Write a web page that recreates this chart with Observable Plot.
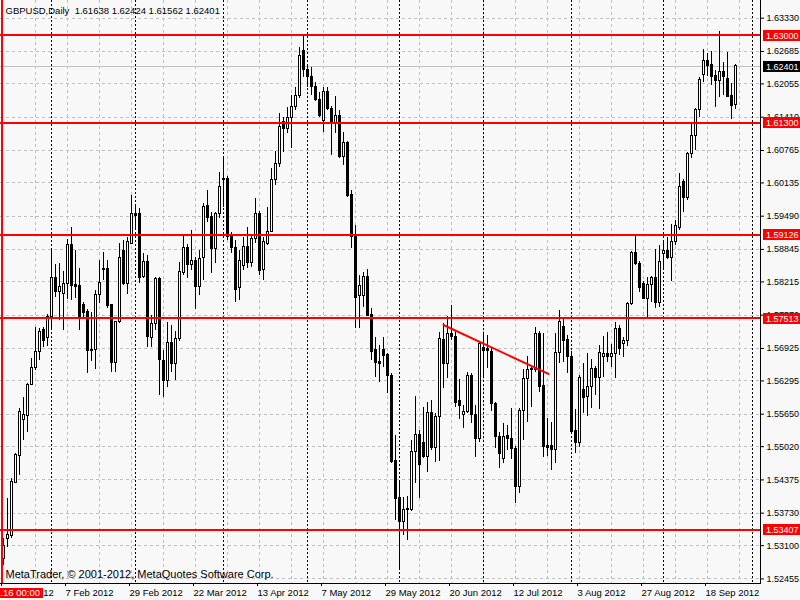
<!DOCTYPE html>
<html><head><meta charset="utf-8">
<script src="https://cdn.jsdelivr.net/npm/d3@7"></script>
<script src="https://cdn.jsdelivr.net/npm/@observablehq/plot@0.6"></script>
<style>
html,body{margin:0;padding:0;background:#f8f8f8;}
#chart{width:800px;height:600px;overflow:hidden;}
</style>
</head><body><div id="chart"></div>
<script>
const open = [1.5285,1.5322,1.5329,1.5432,1.5483,1.5553,1.5562,1.5622,1.5655,1.5686,1.5729,1.5712,1.5754,1.5830,1.5801,1.5799,1.5818,1.5894,1.5816,1.5814,1.5776,1.5764,1.5690,1.5690,1.5797,1.5844,1.5847,1.5776,1.5665,1.5743,1.5882,1.5818,1.5896,1.5954,1.5954,1.5832,1.5861,1.5712,1.5739,1.5828,1.5669,1.5630,1.5704,1.5663,1.5710,1.5838,1.5888,1.5855,1.5863,1.5811,1.5867,1.5968,1.5948,1.5886,1.5954,1.6020,1.6022,1.5908,1.5888,1.5809,1.5853,1.5890,1.5859,1.5904,1.5954,1.5845,1.5896,1.5919,1.6020,1.6051,1.6131,1.6119,1.6140,1.6160,1.6183,1.6270,1.6232,1.6218,1.6199,1.6175,1.6133,1.6189,1.6156,1.6129,1.6144,1.6063,1.6090,1.5991,1.5908,1.5795,1.5795,1.5832,1.5758,1.5690,1.5667,1.5690,1.5679,1.5640,1.5475,1.5403,1.5355,1.5380,1.5380,1.5492,1.5525,1.5510,1.5481,1.5568,1.5500,1.5560,1.5708,1.5663,1.5721,1.5715,1.5591,1.5564,1.5570,1.5640,1.5564,1.5516,1.5694,1.5692,1.5686,1.5584,1.5521,1.5479,1.5523,1.5516,1.5498,1.5423,1.5572,1.5634,1.5650,1.5651,1.5721,1.5620,1.5504,1.5504,1.5496,1.5684,1.5735,1.5708,1.5675,1.5533,1.5510,1.5611,1.5599,1.5618,1.5653,1.5636,1.5675,1.5682,1.5675,1.5681,1.5731,1.5702,1.5706,1.5779,1.5878,1.5857,1.5818,1.5789,1.5816,1.5830,1.5781,1.5876,1.5882,1.5867,1.5898,1.5927,1.6016,1.5985,1.6069,1.6105,1.6154,1.6222,1.6249,1.6243,1.6220,1.6212,1.6228,1.6216,1.6183,1.61638];
const high = [1.5324,1.5401,1.5440,1.5488,1.5576,1.5597,1.5624,1.5673,1.5733,1.5731,1.5733,1.5758,1.5886,1.5855,1.5857,1.5842,1.5904,1.5927,1.5882,1.5847,1.5781,1.5768,1.5762,1.5805,1.5863,1.5878,1.5863,1.5778,1.5745,1.5896,1.5902,1.5908,1.5989,1.5970,1.5964,1.5876,1.5873,1.5756,1.5830,1.5830,1.5688,1.5743,1.5737,1.5725,1.5859,1.5909,1.5894,1.5921,1.5869,1.5882,1.5973,1.5999,1.5956,1.5956,1.6034,1.6061,1.6026,1.5917,1.5902,1.5882,1.5908,1.5927,1.5911,1.5983,1.5958,1.5908,1.5966,1.6041,1.6074,1.6148,1.6140,1.6160,1.6183,1.6199,1.6276,1.6297,1.6241,1.6237,1.6208,1.6189,1.6199,1.6199,1.6162,1.6181,1.6154,1.6111,1.6094,1.5999,1.5931,1.5834,1.5840,1.5845,1.5770,1.5714,1.5698,1.5714,1.5682,1.5644,1.5523,1.5432,1.5403,1.5405,1.5514,1.5599,1.5533,1.5578,1.5587,1.5591,1.5566,1.5723,1.5741,1.5754,1.5776,1.5727,1.5632,1.5582,1.5646,1.5644,1.5582,1.5704,1.5723,1.5717,1.5692,1.5587,1.5529,1.5547,1.5543,1.5576,1.5502,1.5576,1.5651,1.5677,1.5659,1.5733,1.5725,1.5721,1.5556,1.5549,1.5721,1.5766,1.5750,1.5717,1.5686,1.5574,1.5640,1.5663,1.5682,1.5671,1.5657,1.5698,1.5715,1.5723,1.5700,1.5743,1.5737,1.5714,1.5781,1.5880,1.5909,1.5861,1.5822,1.5830,1.5832,1.5884,1.5892,1.5898,1.5908,1.5933,1.5941,1.6032,1.6020,1.6072,1.6129,1.6158,1.6218,1.6272,1.6264,1.6268,1.6232,1.6307,1.6247,1.6266,1.6206,1.62424];
const low = [1.5271,1.5306,1.5324,1.5430,1.5446,1.5514,1.5529,1.5620,1.5650,1.5669,1.5694,1.5696,1.5727,1.5791,1.5747,1.5727,1.5787,1.5785,1.5789,1.5727,1.5752,1.5644,1.5667,1.5651,1.5779,1.5824,1.5770,1.5646,1.5646,1.5741,1.5814,1.5797,1.5894,1.5921,1.5818,1.5828,1.5694,1.5694,1.5727,1.5601,1.5597,1.5617,1.5646,1.5630,1.5706,1.5834,1.5828,1.5844,1.5768,1.5795,1.5824,1.5937,1.5838,1.5857,1.5944,1.5966,1.5902,1.5876,1.5781,1.5785,1.5844,1.5847,1.5849,1.5896,1.5834,1.5824,1.5892,1.5917,1.6008,1.6043,1.6072,1.6109,1.6080,1.6154,1.6177,1.6218,1.6199,1.6183,1.6171,1.6140,1.6111,1.6154,1.6067,1.6109,1.6061,1.6047,1.5985,1.5886,1.5731,1.5731,1.5772,1.5754,1.5669,1.5636,1.5626,1.5655,1.5605,1.5469,1.5359,1.5265,1.5329,1.5320,1.5376,1.5430,1.5401,1.5479,1.5452,1.5494,1.5471,1.5473,1.5615,1.5634,1.5708,1.5578,1.5554,1.5537,1.5566,1.5547,1.5481,1.5510,1.5636,1.5653,1.5570,1.5498,1.5459,1.5469,1.5494,1.5477,1.5391,1.5411,1.5514,1.5549,1.5578,1.5646,1.5607,1.5481,1.5483,1.5456,1.5469,1.5663,1.5665,1.5644,1.5525,1.5488,1.5500,1.5566,1.5560,1.5576,1.5601,1.5574,1.5636,1.5665,1.5655,1.5634,1.5679,1.5675,1.5696,1.5776,1.5853,1.5801,1.5787,1.5752,1.5781,1.5770,1.5772,1.5847,1.5865,1.5822,1.5892,1.5921,1.5956,1.5979,1.6061,1.6076,1.6140,1.6208,1.6220,1.6202,1.6160,1.6179,1.6183,1.6179,1.6136,1.61562];
const close = [1.5310,1.5331,1.5434,1.5485,1.5570,1.5564,1.5622,1.5655,1.5686,1.5725,1.5706,1.5754,1.5830,1.5801,1.5811,1.5818,1.5894,1.5814,1.5812,1.5752,1.5762,1.5688,1.5688,1.5797,1.5820,1.5847,1.5774,1.5665,1.5743,1.5867,1.5818,1.5898,1.5954,1.5950,1.5830,1.5861,1.5714,1.5739,1.5828,1.5671,1.5630,1.5704,1.5663,1.5710,1.5840,1.5888,1.5855,1.5863,1.5812,1.5865,1.5966,1.5946,1.5886,1.5954,1.6005,1.6022,1.5908,1.5888,1.5805,1.5863,1.5890,1.5859,1.5904,1.5954,1.5842,1.5898,1.5919,1.6020,1.6051,1.6121,1.6119,1.6140,1.6160,1.6183,1.6259,1.6232,1.6218,1.6199,1.6175,1.6144,1.6189,1.6156,1.6129,1.6144,1.6063,1.6090,1.5989,1.5908,1.5791,1.5814,1.5832,1.5756,1.5686,1.5665,1.5663,1.5677,1.5640,1.5473,1.5401,1.5355,1.5380,1.5382,1.5492,1.5525,1.5467,1.5481,1.5568,1.5500,1.5560,1.5710,1.5663,1.5721,1.5714,1.5587,1.5580,1.5570,1.5640,1.5564,1.5516,1.5702,1.5688,1.5688,1.5584,1.5520,1.5487,1.5521,1.5516,1.5498,1.5423,1.5572,1.5634,1.5651,1.5652,1.5721,1.5617,1.5502,1.5500,1.5496,1.5684,1.5743,1.5706,1.5675,1.5531,1.5510,1.5636,1.5597,1.5618,1.5653,1.5636,1.5684,1.5682,1.5675,1.5681,1.5731,1.5692,1.5706,1.5779,1.5878,1.5857,1.5809,1.5789,1.5816,1.5830,1.5781,1.5861,1.5882,1.5867,1.5898,1.5929,1.6006,1.5985,1.6069,1.6105,1.6154,1.6214,1.6249,1.6241,1.6218,1.6212,1.6228,1.6218,1.6181,1.6162,1.62401];

const priceTicks = [1.63330,1.62685,1.62055,1.61410,1.60765,1.60135,1.59490,1.58845,1.58215,1.57570,1.56925,1.56295,1.55650,1.55020,1.54375,1.53730,1.53100,1.52455];
const dateTickBars = [0,16,32,48,64,80,96,112,128,144,160,176];
const dateTickLabels = ["16 Jan 2012","7 Feb 2012","29 Feb 2012","22 Mar 2012","13 Apr 2012","7 May 2012","29 May 2012","20 Jun 2012","12 Jul 2012","3 Aug 2012","27 Aug 2012","18 Sep 2012"];
const gridBars = [8,16,24,32,40,48,56,64,72,80,88,96,104,112,120,128,136,144,152,160,168,176,184];
const monthStartBars = [12,33,55,76,99,120,142,165,187.25];
const levels = [1.63000,1.61300,1.59126,1.57513,1.53407];
const trendBars = [110,136.25];
const trendPrices = [1.5738,1.5643];
const vlineBar = 0;
const vlineLabel = "2012.01.16 00:00";
const header = "GBPUSD,Daily  1.61638 1.62424 1.61562 1.62401";
const footer = "MetaTrader, \u00a9 2001-2012, MetaQuotes Software Corp.";

const bars = open.map((o, i) => ({i, o, h: high[i], l: low[i], c: close[i]}));
const bid = close[close.length - 1];
const trend = trendBars.map((b, k) => ({i: b, p: trendPrices[k]}));
const FONT = "Liberation Sans, Arial, sans-serif";

const overlay = (index, scales, values, dims) => {
  const {x, y} = scales;
  const g = d3.create("svg:g").attr("font-family", FONT).attr("font-size", 9).attr("text-anchor", "start");
  const right = dims.width - dims.marginRight;
  const bottom = dims.height - dims.marginBottom;
  g.append("line").attr("x1", right + 0.5).attr("x2", right + 0.5).attr("y1", 0).attr("y2", bottom + 1).attr("stroke", "black");
  g.append("line").attr("x1", 0).attr("x2", right + 1).attr("y1", bottom + 0.5).attr("y2", bottom + 0.5).attr("stroke", "black");
  for (const lv of levels) {
    const yy = Math.round(y(lv));
    g.append("rect").attr("x", right + 3).attr("y", yy - 5).attr("width", dims.width - right - 3).attr("height", 11).attr("fill", "#ff0000");
    g.append("text").attr("x", right + 6).attr("y", yy + 0.5).attr("dy", "0.35em").attr("text-anchor", "start").attr("fill", "white").text(lv.toFixed(5));
  }
  const yb = Math.round(y(bid));
  g.append("rect").attr("x", right + 3).attr("y", yb - 5).attr("width", dims.width - right - 3).attr("height", 11).attr("fill", "black");
  g.append("text").attr("x", right + 6).attr("y", yb + 0.5).attr("dy", "0.35em").attr("text-anchor", "start").attr("fill", "white").text(bid.toFixed(5));
  const xv = x(vlineBar);
  g.append("rect").attr("x", xv - 40).attr("y", bottom + 5).attr("width", 80).attr("height", 10).attr("fill", "#ff0000");
  g.append("text").attr("x", xv).attr("y", bottom + 10).attr("dy", "0.35em").attr("text-anchor", "middle").attr("font-size", 9.5).attr("fill", "white").text(vlineLabel);
  return g.node();
};

const chart = Plot.plot({
  width: 800, height: 600,
  marginTop: 0, marginLeft: 0, marginRight: 40, marginBottom: 17,
  style: {background: "#f8f8f8", fontFamily: FONT, fontSize: "9.5px", color: "black"},
  x: {type: "linear", domain: [-0.75, 189.25], label: null},
  y: {domain: [1.52366, 1.63673], label: null},
  marks: [
    Plot.ruleY(priceTicks, {stroke: "#c0c0c0", strokeDasharray: "3,3", shapeRendering: "crispEdges"}),
    Plot.ruleX(gridBars, {stroke: "#c0c0c0", strokeDasharray: "3,3", shapeRendering: "crispEdges"}),
    Plot.ruleX(monthStartBars, {stroke: "black", strokeDasharray: "2,2", shapeRendering: "crispEdges"}),
    Plot.ruleY([bid], {stroke: "#c0c0c0", shapeRendering: "crispEdges"}),
    Plot.ruleX(bars, {x: "i", y1: "l", y2: "h", stroke: "black", shapeRendering: "crispEdges"}),
    Plot.rect(bars, {x1: d => d.i - 0.25, x2: d => d.i + 0.25, y1: "o", y2: "c",
      fill: d => d.c > d.o ? "white" : "black", stroke: "black", shapeRendering: "crispEdges"}),
    Plot.ruleY(levels, {stroke: "#ff0000", strokeWidth: 2, shapeRendering: "crispEdges"}),
    Plot.line(trend, {x: "i", y: "p", stroke: "#ff0000", strokeWidth: 2}),
    Plot.ruleX([vlineBar], {stroke: "#ff0000", strokeWidth: 2, dx: -1.5, shapeRendering: "crispEdges"}),
    Plot.axisY(priceTicks, {anchor: "right", label: null, tickSize: 3, tickPadding: 3, fontSize: 9, tickFormat: d => d.toFixed(5), fill: "black"}),
    Plot.axisX(dateTickBars, {anchor: "bottom", label: null, tickSize: 3, tickPadding: 3, textAnchor: "start", dx: -2,
      tickFormat: d => dateTickLabels[dateTickBars.indexOf(d)], fill: "black"}),
    Plot.text([header], {frameAnchor: "top-left", dx: 5, dy: 10, lineAnchor: "middle", textAnchor: "start", fill: "black"}),
    Plot.text([footer], {frameAnchor: "bottom-left", dx: 5, dy: -9, lineAnchor: "middle", textAnchor: "start", fontSize: 11, fill: "black"}),
    overlay
  ]
});
document.getElementById("chart").appendChild(chart);
</script>
</body></html>
